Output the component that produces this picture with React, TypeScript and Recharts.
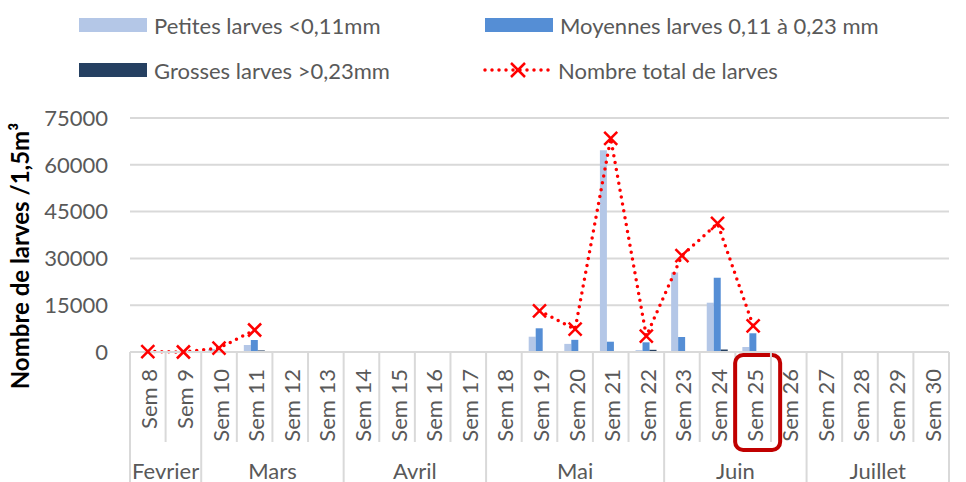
import React from "react";
import { Bar, CartesianGrid, ComposedChart, Line, XAxis, YAxis } from "recharts";

// semaines d'échantillonnage
const weeks = [
   "Sem 8", "Sem 9", "Sem 10", "Sem 11", "Sem 12", "Sem 13", "Sem 14", "Sem 15",
   "Sem 16", "Sem 17", "Sem 18", "Sem 19", "Sem 20", "Sem 21", "Sem 22", "Sem 23",
   "Sem 24", "Sem 25", "Sem 26", "Sem 27", "Sem 28", "Sem 29", "Sem 30",
];
const monthNames = ["Fevrier", "Mars", "Avril", "Mai", "Juin", "Juillet"];
const monthWeekCounts = [2, 4, 4, 5, 4, 4];

const petites = [0, 0, 950, 2250, 0, 0, 0, 0, 0, 0, 0, 4900, 2600, 64700, 600, 25500, 15800, 1600, 0, 0, 0, 0, 0];
const moyennes = [0, 0, 0, 3850, 0, 0, 0, 0, 0, 0, 0, 7600, 3900, 3300, 3100, 4800, 23800, 6000, 0, 0, 0, 0, 0];
const grosses = [0, 0, 0, 500, 0, 0, 0, 0, 0, 0, 0, 200, 300, 0, 700, 100, 800, 100, 0, 0, 0, 0, 0];
const total = [150, 0, 1250, 7050, null, null, null, null, null, null, null, 13200, 7300, 68500, 5100, 30900, 41200, 8400, null, null, null, null, null];

const yTicks = [0, 15000, 30000, 45000, 60000, 75000];
const highlightWeek = "Sem 25";

const data = weeks.map((w, i) => ({
   week: w,
   petites: petites[i],
   moyennes: moyennes[i],
   grosses: grosses[i],
   total: total[i],
}));

const W = 966;
const H = 482;
const MARGIN = { top: 118, right: 17, bottom: 0, left: 0 };
const Y_W = 130;
const X_H = 130;
const BAND = (W - MARGIN.left - MARGIN.right - Y_W) / weeks.length;

const FONT = "Lato, Carlito, Calibri, sans-serif";
const TXT = "#595959";
const GRID = "#D9D9D9";
const RED = "#FF0000";

// premier index de chaque mois
const monthStarts = monthWeekCounts.map((_, m) =>
   monthWeekCounts.slice(0, m).reduce((a, b) => a + b, 0)
);

function WeekTick(props: any) {
   const { x, y, payload } = props;
   const i = weeks.indexOf(payload.value);
   const left = x - BAND / 2;
   const m = monthStarts.indexOf(i);
   const isLast = i === weeks.length - 1;
   return (
      <g>
         <line x1={left} x2={left} y1={y} y2={y + (m >= 0 ? X_H : 90)} stroke={GRID} strokeWidth={2} />
         {isLast && (
            <line x1={x + BAND / 2} x2={x + BAND / 2} y1={y} y2={y + X_H} stroke={GRID} strokeWidth={2} />
         )}
         <text
            transform={`translate(${x + 1},${y + 17}) rotate(-90)`}
            textAnchor="end"
            dominantBaseline="central"
            fontSize={22}
            fontFamily={FONT}
            fill={TXT}
         >
            {payload.value}
         </text>
         {payload.value === highlightWeek && (
            <rect x={x - 18} y={y + 3} width={45} height={95} rx={8} fill="none" stroke="#C00000" strokeWidth={4} />
         )}
         {m >= 0 && (
            <text
               x={x + ((monthWeekCounts[m] - 1) * BAND) / 2}
               y={y + 118}
               textAnchor="middle"
               dominantBaseline="central"
               fontSize={22}
               fontFamily={FONT}
               fill={TXT}
            >
               {monthNames[m]}
            </text>
         )}
      </g>
   );
}

function CrossDot(props: any) {
   const { cx, cy, value } = props;
   if (value == null || cx == null || cy == null) return null;
   const s = 6.5;
   return (
      <g>
         <line x1={cx - s} y1={cy - s} x2={cx + s} y2={cy + s} stroke={RED} strokeWidth={2.5} />
         <line x1={cx - s} y1={cy + s} x2={cx + s} y2={cy - s} stroke={RED} strokeWidth={2.5} />
      </g>
   );
}

function YTitle() {
   return (
      <text
         transform="translate(19,256) rotate(-90)"
         textAnchor="middle"
         dominantBaseline="central"
         fontSize={24}
         fontWeight="bold"
         fontFamily={FONT}
         fill="#000"
      >
         Nombre de larves /1,5m³
      </text>
   );
}

function Swatch({ color }: { color: string }) {
   return <div style={{ width: 68, height: 14, background: color, marginRight: 7 }} />;
}

function LegendBox() {
   const item = (top: number, left: number, mark: React.ReactNode, label: string) => (
      <div
         style={{
            position: "absolute",
            top,
            left,
            height: 28,
            display: "flex",
            alignItems: "center",
            fontFamily: FONT,
            fontSize: 22,
            color: TXT,
            whiteSpace: "nowrap",
         }}
      >
         {mark}
         {label}
      </div>
   );
   const lineMark = (
      <svg width={75} height={20} style={{ marginRight: 2 }}>
         <line x1={4} x2={70} y1={10} y2={10} stroke={RED} strokeWidth={3.5} strokeDasharray="0 7" strokeLinecap="round" />
         <line x1={30} y1={3} x2={44} y2={17} stroke={RED} strokeWidth={2.5} />
         <line x1={30} y1={17} x2={44} y2={3} stroke={RED} strokeWidth={2.5} />
      </svg>
   );
   return (
      <>
         {item(11, 79, <Swatch color="#B4C7E7" />, "Petites larves <0,11mm")}
         {item(11, 485, <Swatch color="#558ED5" />, "Moyennes larves 0,11 à 0,23 mm")}
         {item(56, 79, <Swatch color="#254061" />, "Grosses larves >0,23mm")}
         {item(56, 481, lineMark, "Nombre total de larves")}
      </>
   );
}

export default function App() {
   return (
      <div style={{ position: "absolute", left: 0, top: 0, width: W, height: H, background: "#fff" }}>
         <ComposedChart width={W} height={H} data={data} margin={MARGIN} barGap={0}>
            <CartesianGrid vertical={false} stroke={GRID} strokeWidth={2} />
            <XAxis
               dataKey="week"
               height={X_H}
               interval={0}
               tickLine={false}
               tickSize={0}
               tickMargin={0}
               axisLine={{ stroke: GRID, strokeWidth: 2 }}
               tick={<WeekTick />}
            />
            <YAxis
               width={Y_W}
               domain={[0, 75000]}
               ticks={yTicks}
               interval={0}
               axisLine={false}
               tickLine={false}
               tickMargin={16}
               tick={{ fontSize: 22, fontFamily: FONT, fill: TXT }}
               label={<YTitle />}
            />
            <Bar dataKey="petites" fill="#B4C7E7" barSize={7} isAnimationActive={false} />
            <Bar dataKey="moyennes" fill="#558ED5" barSize={7} isAnimationActive={false} />
            <Bar dataKey="grosses" fill="#254061" barSize={7} isAnimationActive={false} />
            <Line
               dataKey="total"
               stroke={RED}
               strokeWidth={3.5}
               strokeDasharray="0 7"
               strokeLinecap="round"
               connectNulls={false}
               dot={<CrossDot />}
               activeDot={false}
               isAnimationActive={false}
            />
         </ComposedChart>
         <LegendBox />
      </div>
   );
}
